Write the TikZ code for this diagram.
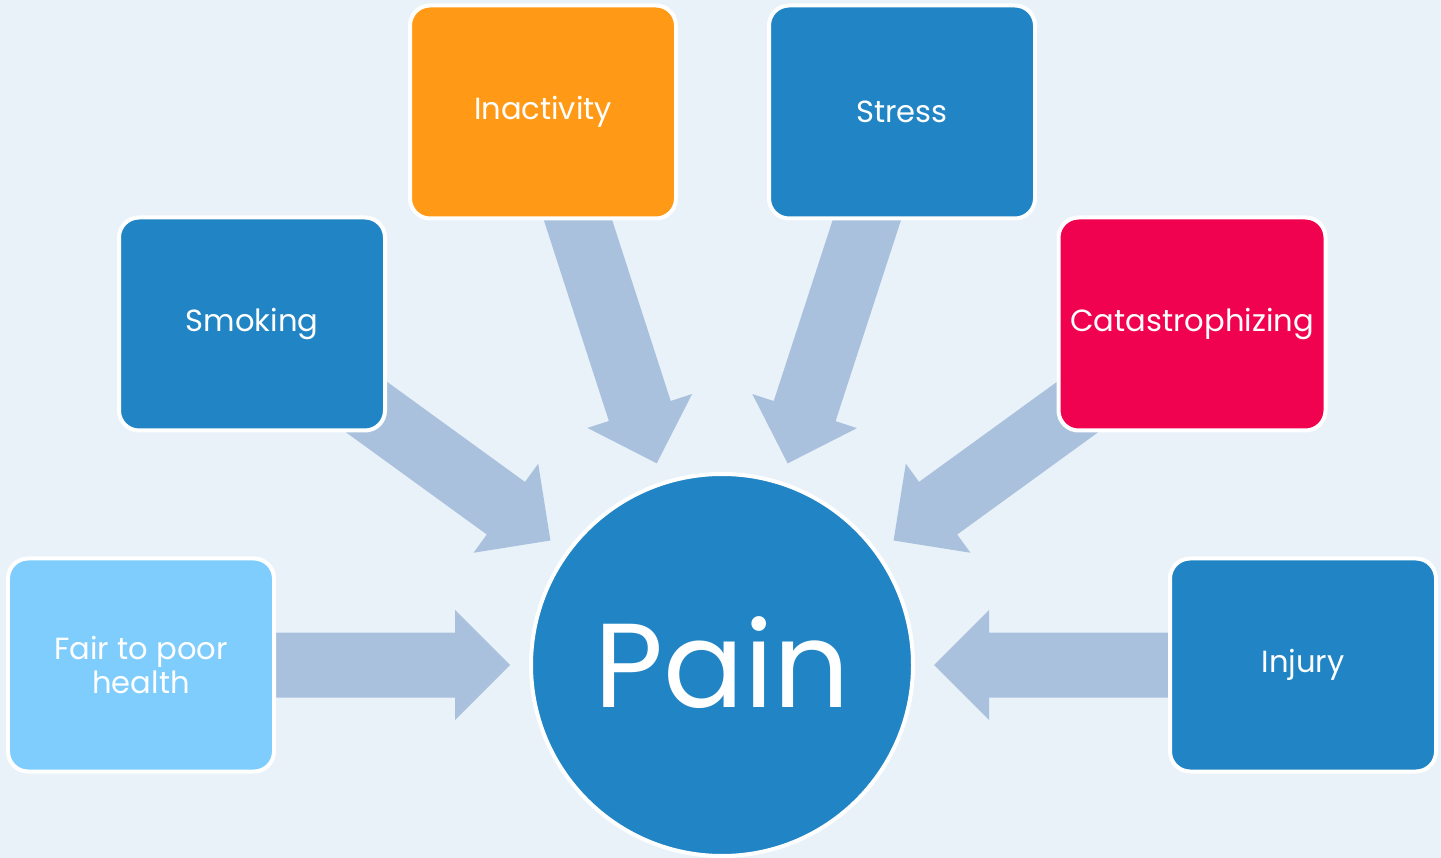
\documentclass[tikz,border=0pt]{standalone}
\usepackage{fontspec}
\setmainfont{Poppins}
\usepackage{tikz}
\usetikzlibrary{calc, backgrounds}
\definecolor{bgblue}{RGB}{233,241,249}
\definecolor{boxblue}{RGB}{33,133,197}
\definecolor{paleblue}{RGB}{127,205,253}
\definecolor{boxorange}{RGB}{255,153,22}
\definecolor{boxred}{RGB}{240,2,80}
\definecolor{arrowblue}{RGB}{170,193,222}

\begin{document}
\begin{tikzpicture}[
    box/.style={rectangle, rounded corners=0.2cm, draw=white, line width=0.04cm, minimum width=2.66cm, minimum height=2.13cm, text=white, align=center, font=\fontsize{8.7}{9.8}\selectfont},
    hub/.style={circle, draw=white, line width=0.04cm, fill=boxblue, minimum size=3.82cm, text=white, font=\fontsize{34}{40}\selectfont},
    blockarrow/.style={fill=arrowblue, to path={
        ($(\tikztostart)!0.325cm!90:(\tikztotarget)$)
        -- ($($(\tikztotarget)!0.55cm!(\tikztostart)$)!0.325cm!90:(\tikztotarget)$)
        -- ($($(\tikztotarget)!0.55cm!(\tikztostart)$)!0.55cm!90:(\tikztotarget)$)
        -- (\tikztotarget)
        -- ($($(\tikztotarget)!0.55cm!(\tikztostart)$)!0.55cm!-90:(\tikztotarget)$)
        -- ($($(\tikztotarget)!0.55cm!(\tikztostart)$)!0.325cm!-90:(\tikztotarget)$)
        -- ($(\tikztostart)!0.325cm!-90:(\tikztotarget)$) -- cycle}}
]
    \useasboundingbox (0,0) rectangle (14.41,-8.58);

    \node[box, fill=paleblue] (health) at (1.41,-6.65) {Fair to poor\\health};
    \node[box, fill=boxblue] (smoking) at (2.52,-3.24) {Smoking};
    \node[box, fill=boxorange] (inactivity) at (5.43,-1.12) {Inactivity};
    \node[box, fill=boxblue] (stress) at (9.02,-1.12) {Stress};
    \node[box, fill=boxred] (catastro) at (11.92,-3.24) {Catastrophizing};
    \node[box, fill=boxblue] (injury) at (13.03,-6.65) {Injury};
    \node[hub] (pain) at (7.22,-6.65) {\raisebox{0.05cm}{Pain}};

    \coordinate (tip-health) at ($(pain)!2.12cm!(health)$);
    \coordinate (tip-smoking) at ($(pain)!2.12cm!(smoking)$);
    \coordinate (tip-inactivity) at ($(pain)!2.12cm!(inactivity)$);
    \coordinate (tip-stress) at ($(pain)!2.12cm!(stress)$);
    \coordinate (tip-catastro) at ($(pain)!2.12cm!(catastro)$);
    \coordinate (tip-injury) at ($(pain)!2.12cm!(injury)$);

    \begin{scope}[on background layer]
        \fill[bgblue] (0,0) rectangle (14.41,-8.58);
        \path[blockarrow] (health) to (tip-health);
        \path[blockarrow] (smoking) to (tip-smoking);
        \path[blockarrow] (inactivity) to (tip-inactivity);
        \path[blockarrow] (stress) to (tip-stress);
        \path[blockarrow] (catastro) to (tip-catastro);
        \path[blockarrow] (injury) to (tip-injury);
    \end{scope}
\end{tikzpicture}
\end{document}
